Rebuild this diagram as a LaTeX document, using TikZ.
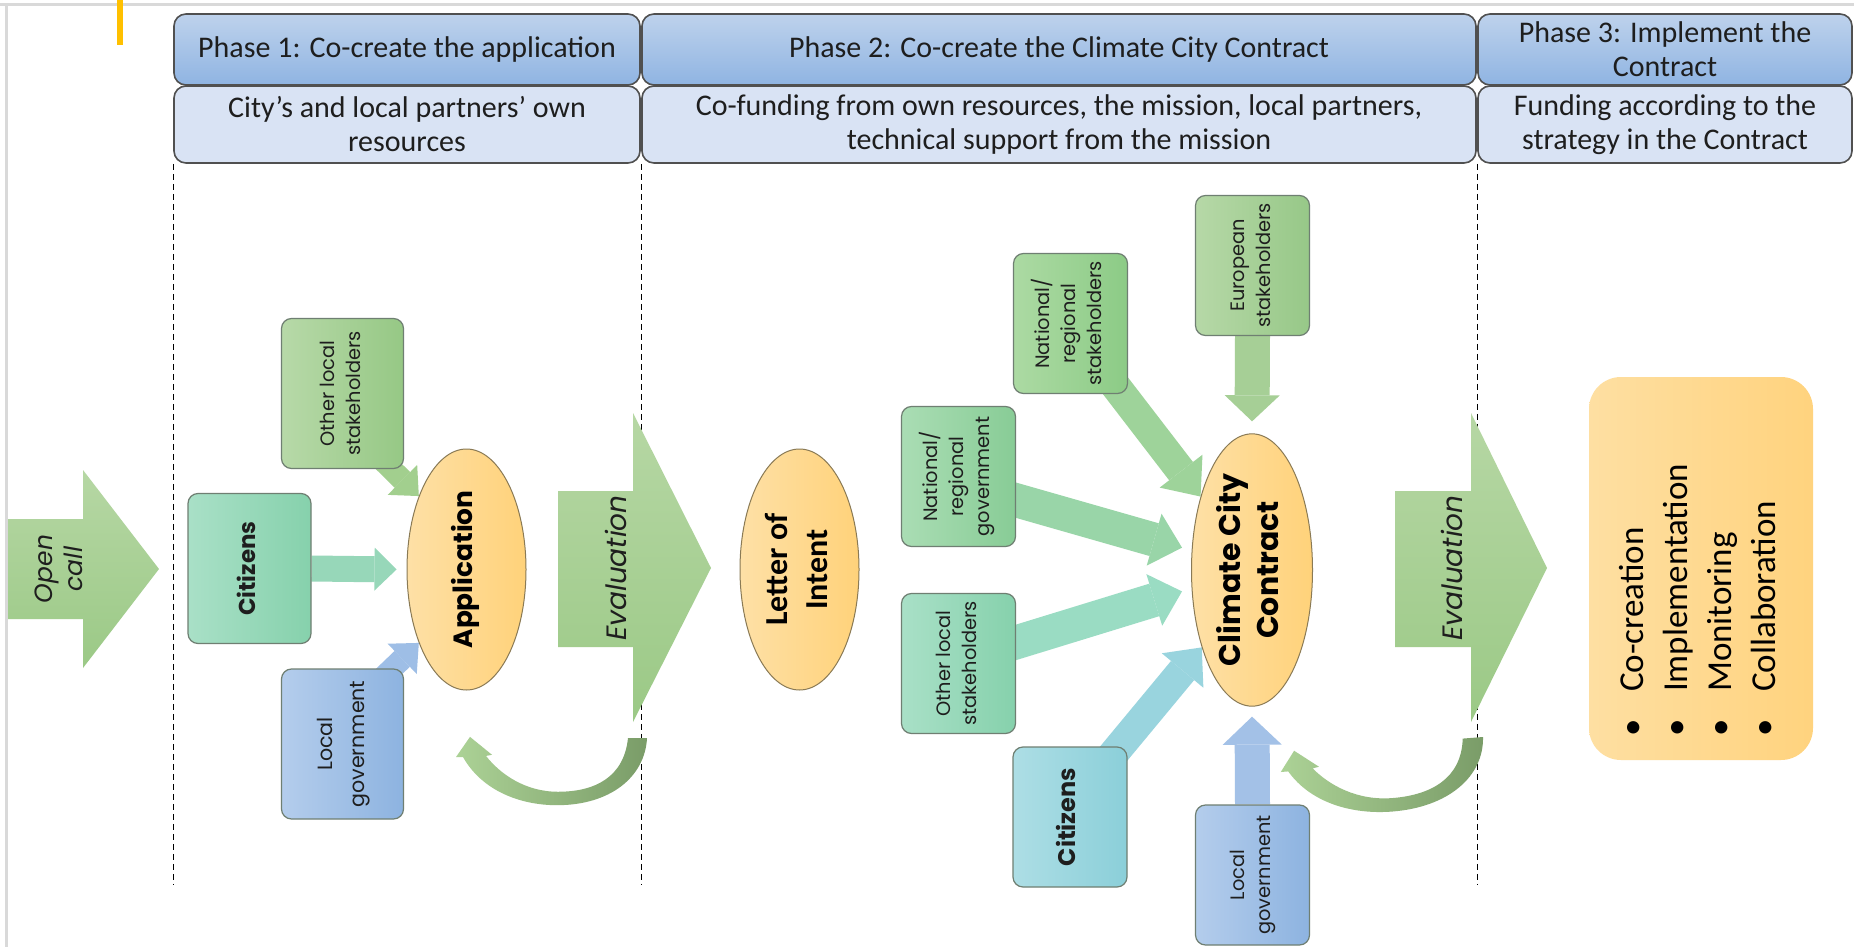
\documentclass[tikz,border=0pt]{standalone}
\usepackage{fontspec}
\usepackage{graphicx}
\setmainfont{Carlito}
\newfontfamily\gothic{Poppins}
\usetikzlibrary{arrows.meta,shapes.geometric,calc}
\pgfdeclarelayer{bg}
\pgfsetlayers{bg,main}
\definecolor{hdTop}{HTML}{BED2EC}
\definecolor{hdBot}{HTML}{8FB4E2}
\definecolor{subfill}{HTML}{D9E3F4}
\definecolor{hdline}{HTML}{505050}
\definecolor{txt}{HTML}{1E1E1E}
\definecolor{framegray}{HTML}{D9D9D9}
\definecolor{yel}{HTML}{FFC000}
\definecolor{boxline}{HTML}{6F7F72}
\definecolor{ovalline}{HTML}{8A7A55}
\definecolor{arTop}{HTML}{B6D7A4}
\definecolor{arBot}{HTML}{9BC986}
\definecolor{loopL}{HTML}{ACD296}
\definecolor{loopR}{HTML}{7A9C68}
\definecolor{orL}{HTML}{FEE0A6}
\definecolor{orR}{HTML}{FFD27A}
\definecolor{resL}{HTML}{FEDFA2}
\definecolor{resR}{HTML}{FFD37E}
\definecolor{ollL}{HTML}{B7D9A8}
\definecolor{ollR}{HTML}{96C885}
\definecolor{mintL}{HTML}{A9E0C7}
\definecolor{mintR}{HTML}{86D1AC}
\definecolor{nrgL}{HTML}{AADDB4}
\definecolor{nrgR}{HTML}{88CC96}
\definecolor{nrsL}{HTML}{ACDAA3}
\definecolor{nrsR}{HTML}{8CCB86}
\definecolor{eurL}{HTML}{B6D8A7}
\definecolor{eurR}{HTML}{97C888}
\definecolor{cyanL}{HTML}{ADDEE5}
\definecolor{cyanR}{HTML}{8BCFD9}
\definecolor{blueL}{HTML}{B4CDEC}
\definecolor{blueR}{HTML}{8DB3E0}
\definecolor{aCit}{HTML}{97D7B9}
\definecolor{aOth}{HTML}{A2CF8E}
\definecolor{aLg}{HTML}{9EBEE6}
\definecolor{aNrs}{HTML}{9ED39A}
\definecolor{aNrg}{HTML}{99D5A8}
\definecolor{aOth2}{HTML}{9ADCC3}
\definecolor{aCit2}{HTML}{99D4DE}
\definecolor{aEur}{HTML}{A6CF96}
\definecolor{aLg2}{HTML}{A3C1E7}
\newcommand{\vlab}[1]{\rotatebox{90}{\begin{tabular}{@{}c@{}}#1\end{tabular}}}
\newcommand{\loopshape}{(0,0) -- (-19,0) .. controls (-23,35) and (-52,48) .. (-89,48) .. controls (-122,48) and (-147,32) .. (-161,16) -- (-155,15) -- (-177,-1) -- (-191,17) -- (-184,17) .. controls (-165,47) and (-127,60) .. (-90,60) .. controls (-37,60) and (-2,35) .. (0,0) -- cycle}
\begin{document}
\begin{tikzpicture}[x=0.5pt,y=-0.5pt,
  hd/.style={draw=hdline,line width=0.8pt,rounded corners=6pt,top color=hdTop,bottom color=hdBot,inner sep=0pt,align=center,font=\fontsize{15pt}{17pt}\selectfont,text=txt},
  sb/.style={draw=hdline,line width=0.8pt,rounded corners=6pt,fill=subfill,inner sep=0pt,align=center,font=\fontsize{15pt}{17pt}\selectfont,text=txt},
  divider/.style={line width=0.7pt,dash pattern=on 3pt off 2pt,black},
  sbox/.style 2 args={draw=boxline,line width=0.6pt,rounded corners=5pt,left color=#1,right color=#2,inner sep=0pt,text=txt},
  p1box/.style={minimum width=61pt,minimum height=75pt},
  p2box/.style={minimum width=57pt,minimum height=70pt},
  oval/.style={ellipse,draw=ovalline,line width=0.5pt,left color=orL,right color=orR,inner sep=0pt,text=black},
  blk/.style n args={4}{draw=#1,line width=#2,-{Triangle[width=#3,length=#4,line width=0pt]}},
  bigarrow/.style={top color=arTop,bottom color=arBot},
  looparrow/.style={left color=loopL,right color=loopR},
  lbl/.style={inner sep=0pt,text=txt},
  smalllbl/.style={font=\gothic\fontsize{9.7pt}{13pt}\selectfont},
  boldlbl/.style={font=\gothic\bfseries\fontsize{11.5pt}{14pt}\selectfont}
]
\useasboundingbox (0,0) rectangle (1854,947);
\begin{pgfonlayer}{bg}
\fill[white] (0,0) rectangle (1854,947);
\end{pgfonlayer}
% frame and marker
\draw[framegray,line width=1.5pt] (0,5) -- (1854,5);
\draw[framegray,line width=1.5pt] (6,5) -- (6,947);
\fill[yel] (117,0) rectangle (123,45);

% phase headers
\node[hd,minimum width=233pt,minimum height=35.5pt] (h1) at (407,49.5) {Phase 1: Co-create the application};
\node[sb,minimum width=233pt,minimum height=38.5pt] (s1) at (407,124.5) {City’s and local partners’ own\\resources};
\node[hd,minimum width=417pt,minimum height=35.5pt] (h2) at (1059,49.5) {Phase 2: Co-create the Climate City Contract};
\node[sb,minimum width=417pt,minimum height=38.5pt] (s2) at (1059,124.5) {Co-funding from own resources, the mission, local partners,\\technical support from the mission};
\node[hd,minimum width=187pt,minimum height=35.5pt] (h3) at (1665,49.5) {Phase 3: Implement the\\Contract};
\node[sb,minimum width=187pt,minimum height=38.5pt] (s3) at (1665,124.5) {Funding according to the\\strategy in the Contract};

% dividers
\draw[divider] (s1.south west) -- ++(0,721);
\draw[divider] (s2.south west) -- ++(0,721);
\draw[divider] (s3.south west) -- ++(0,721);

% open call
\path[bigarrow] (8,519) -- (83,519) -- (83,470) -- (159,569) -- (83,668) -- (83,619) -- (8,619) -- cycle;
\node[lbl,font=\gothic\itshape\fontsize{12.5pt}{15pt}\selectfont] (open) at (62,569) {\vlab{Open\\call}};

% phase 1
\node[sbox={mintL}{mintR},p1box,minimum width=61.5pt,boldlbl] (cit1) at (249.5,568.5) {\vlab{Citizens}};
\node[sbox={ollL}{ollR},p1box,smalllbl] (oth1) at (342.5,393.5) {\vlab{Other local\\stakeholders}};
\node[sbox={blueL}{blueR},p1box,font=\gothic\fontsize{10.3pt}{16pt}\selectfont] (lg1) at (342.5,744) {\vlab{Local\\government}};
\node[oval,minimum width=59.5pt,minimum height=120.5pt,font=\gothic\bfseries\fontsize{13.2pt}{15pt}\selectfont] (app) at (466.5,569.5) {\vlab{Application}};

\begin{pgfonlayer}{bg}
\draw[blk={aCit}{13pt}{21.5pt}{11pt}] (cit1.east) -- ($(app.west)+(-10,0)$);
\draw[blk={aOth}{11pt}{21pt}{11.5pt}] ($(oth1.south east)+(-41,-28)$) -- (app.123);
\draw[blk={aLg}{11pt}{21pt}{11.5pt}] ($(lg1.north east)+(-41,28)$) -- (app.237);
\end{pgfonlayer}

% evaluation 1
\path[bigarrow] (558,491) -- (633,491) -- (633,413) -- (711,568) -- (633,722) -- (633,647) -- (558,647) -- cycle;
\node[lbl,font=\gothic\itshape\fontsize{14pt}{16pt}\selectfont] (ev1) at (616,568) {\rotatebox{90}{Evaluation}};

% loop 1
\begin{scope}[shift={(647,738)},xscale=1.0,yscale=1.12]
\path[looparrow] \loopshape;
\end{scope}

% letter of intent
\node[oval,minimum width=59.5pt,minimum height=120.5pt,font=\bfseries\fontsize{16pt}{20pt}\selectfont] (loi) at (799.5,569.5) {\vlab{Letter of\\Intent}};

% phase 2
\node[oval,minimum width=60.5pt,minimum height=120pt,font=\gothic\bfseries\fontsize{15pt}{19pt}\selectfont] (ccc) at (1252,570) {\vlab{Climate City\\Contract}};
\node[sbox={nrsL}{nrsR},p2box,smalllbl] (nrs) at (1070.5,323.5) {\vlab{National/\\regional\\stakeholders}};
\node[sbox={eurL}{eurR},p2box,smalllbl] (eur) at (1252.5,265.5) {\vlab{European\\stakeholders}};
\node[sbox={nrgL}{nrgR},p2box,smalllbl] (nrg) at (958.5,476.5) {\vlab{National/\\regional\\government}};
\node[sbox={mintL}{mintR},p2box,smalllbl] (oth2) at (958.5,663.5) {\vlab{Other local\\stakeholders}};
\node[sbox={cyanL}{cyanR},p2box,font=\gothic\bfseries\fontsize{12pt}{14pt}\selectfont] (cit2) at (1070,817) {\vlab{Citizens}};
\node[sbox={blueL}{blueR},p2box,smalllbl] (lg2) at (1252.5,875) {\vlab{Local\\government}};

\begin{pgfonlayer}{bg}
\draw[blk={aEur}{17.5pt}{27.5pt}{13pt},shorten >=6pt] (eur.south) -- (ccc.north);
\draw[blk={aLg2}{17.5pt}{29.5pt}{14pt},shorten >=5pt] (lg2.north) -- (ccc.south);
\draw[blk={aNrs}{15pt}{27pt}{16pt}] ($(nrs.south east)+(-27,-27)$) -- (ccc.125);
\draw[blk={aNrg}{17pt}{27pt}{14.5pt},shorten >=5pt] ($(nrg.east)+(-20,18)$) -- (ccc.162);
\draw[blk={aOth2}{17pt}{27pt}{14.5pt},shorten >=5pt] ($(oth2.east)+(-20,-15)$) -- (ccc.197);
\draw[blk={aCit2}{15pt}{27pt}{15pt}] ($(cit2.north east)+(-27,23)$) -- (ccc.237);
\end{pgfonlayer}

% evaluation 2
\path[bigarrow] (1395,491) -- (1471,491) -- (1471,413) -- (1547,568) -- (1471,722) -- (1471,647) -- (1395,647) -- cycle;
\node[lbl,font=\gothic\itshape\fontsize{14pt}{16pt}\selectfont] (ev2) at (1452,568) {\rotatebox{90}{Evaluation}};

% loop 2
\begin{scope}[shift={(1483,737)},rotate=4.5,xscale=1.07,yscale=1.12]
\path[looparrow] \loopshape;
\end{scope}

% phase 3 result
\node[rounded corners=16pt,left color=resL,right color=resR,minimum width=112pt,minimum height=191.5pt,inner sep=0pt] (res) at (1701,568.5) {};
\node[lbl,text=black,font=\fontsize{17.5pt}{22pt}\selectfont] (list) at (1701,600) {\rotatebox{90}{\begin{tabular}{@{}l@{\hspace{13.5pt}}l@{}}\textbullet & Co-creation\\ \textbullet & Implementation\\ \textbullet & Monitoring\\ \textbullet & Collaboration\end{tabular}}};
\end{tikzpicture}
\end{document}
